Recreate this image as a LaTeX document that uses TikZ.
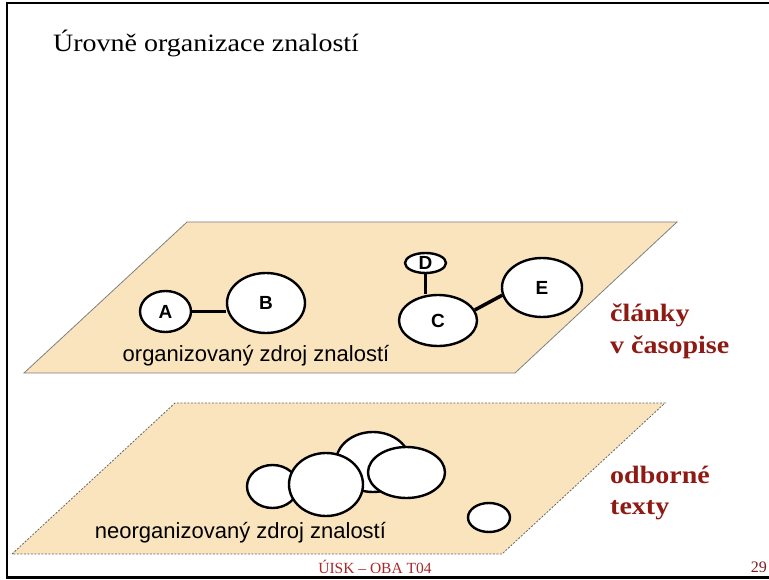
\documentclass[tikz,border=0pt]{standalone}
\usepackage{fontspec}
\setmainfont{Liberation Serif}
\newfontfamily\sansfont{Liberation Sans}
\newfontfamily\headfont[FakeStretch=1.12]{Liberation Serif}
\usepackage{tikz}
\usetikzlibrary{shapes.geometric}
\definecolor{plane}{RGB}{250,228,190}
\definecolor{levelred}{RGB}{142,26,20}
\definecolor{footred}{RGB}{168,40,44}
\definecolor{pagered}{RGB}{120,30,30}

\begin{document}
\begin{tikzpicture}[x=1pt,y=-1pt]
    \tikzstyle{blob}=[ellipse,draw=black,line width=2.4pt,fill=white,inner sep=0pt,font=\sansfont\bfseries\fontsize{19}{19}\selectfont]
    \tikzstyle{link}=[line width=2.2pt]
    \tikzstyle{level}=[anchor=base west,inner sep=0pt,text=levelred,font=\headfont\bfseries\fontsize{25}{30}\selectfont]
    \tikzstyle{caption}=[anchor=base,inner sep=0pt,font=\sansfont\fontsize{22}{26}\selectfont]
    \useasboundingbox (0,0) rectangle (769,580);

    % slide frame and heading
    \draw[line width=2.5pt] (769,3) -- (7,3) -- (7,577.5) -- (769,577.5);
    \node (title)[anchor=base west,inner sep=0pt,font=\headfont\fontsize{25}{30}\selectfont] at (53,52) {Úrovně organizace znalostí};

    % upper plane
    \draw[fill=plane,draw=gray,line width=0.8pt] (24,373) -- (187,222) -- (677,222) -- (515,373) -- cycle;
    \node (a)[blob,minimum width=51pt,minimum height=41pt] at (165.5,311.5) {A};
    \node (b)[blob,minimum width=78pt,minimum height=60pt] at (266,303) {B};
    \node (d)[blob,minimum width=41pt,minimum height=20pt] at (425.5,263) {D};
    \node (c)[blob,minimum width=78pt,minimum height=51pt] at (438,320.5) {C};
    \node (e)[blob,minimum width=80pt,minimum height=59pt] at (542,287.5) {E};
    \draw[link] (a.east) -- (a.east -| b.west);
    \draw[link] (d.south) -- (d.south |- c.north);
    \draw[link,line width=3.5pt] (c.16) -- (e.191);
    \node (org)[caption] at (256,361) {organizovaný zdroj znalostí};

    % lower plane
    \draw[fill=plane,draw=gray!80!black,line width=0.8pt,dash pattern=on 2pt off 1.5pt] (12,554) -- (175,403) -- (665,403) -- (502,554) -- cycle;
    \node (u1)[blob,minimum width=51pt,minimum height=43pt] at (272.5,486.5) {};
    \node (u3)[blob,minimum width=74pt,minimum height=60pt] at (373,462) {};
    \node (u2)[blob,minimum width=74pt,minimum height=63pt] at (326,484.5) {};
    \node (u4)[blob,minimum width=77pt,minimum height=51pt] at (406.5,472.5) {};
    \node (u5)[blob,minimum width=42pt,minimum height=29pt] at (489,517.5) {};
    \node (neorg)[caption] at (240.5,538) {neorganizovaný zdroj znalostí};

    % level names
    \node (clanky)[level] at (610,322) {články};
    \node (casopis)[level] at (610,353) {v časopise};
    \node (odborne)[level] at (610,483) {odborné};
    \node (texty)[level] at (610,514) {texty};

    % footer
    \node (foot)[anchor=base,inner sep=0pt,text=footred,font=\fontsize{15.5}{17}\selectfont] at (375,573) {ÚISK – OBA T04};
    \node (page)[anchor=base east,inner sep=0pt,text=pagered,font=\fontsize{16}{17}\selectfont] at (767,572) {29};
\end{tikzpicture}
\end{document}
